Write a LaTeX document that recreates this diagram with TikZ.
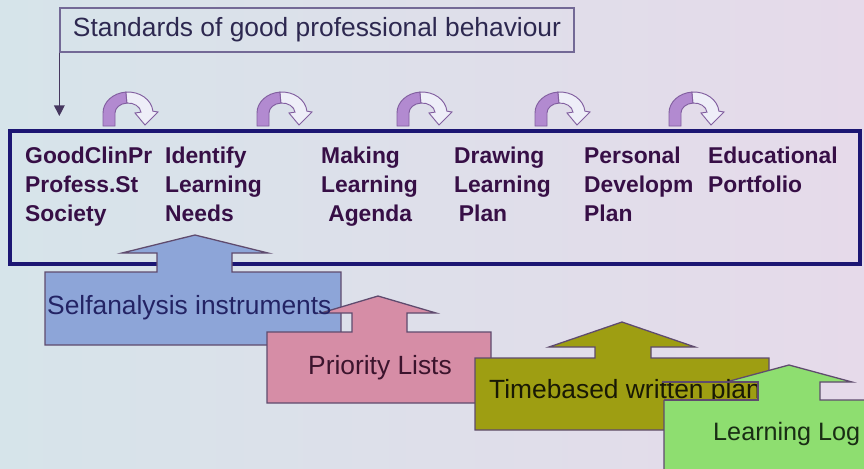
\documentclass[tikz,border=0pt]{standalone}
\usepackage{fontspec}
\setmainfont{Liberation Sans}
\usetikzlibrary{arrows.meta}

\definecolor{bgleft}{RGB}{214,228,234}
\definecolor{bgright}{RGB}{230,218,234}
\definecolor{boxnavy}{RGB}{28,22,115}
\definecolor{stdline}{RGB}{115,105,150}
\definecolor{stdtext}{RGB}{45,40,80}
\definecolor{stdarrow}{RGB}{70,55,95}
\definecolor{coltext}{RGB}{55,15,70}
\definecolor{turnfill}{RGB}{178,138,208}
\definecolor{turnline}{RGB}{130,95,160}
\definecolor{turnwhite}{RGB}{238,238,248}
\definecolor{selfblue}{RGB}{141,165,216}
\definecolor{prioritypink}{RGB}{214,141,166}
\definecolor{timeolive}{RGB}{158,158,18}
\definecolor{loggreen}{RGB}{142,222,112}
\definecolor{shapeline}{RGB}{95,75,110}

\begin{document}
\begin{tikzpicture}[x=0.03cm,y=-0.03cm,
    blockarrow/.style={draw=shapeline,line width=1.1pt},
    coltitle/.style={anchor=north west,inner sep=0pt,align=left,text=coltext,
        font=\fontsize{19.5}{24.7}\selectfont\bfseries},
    blocktext/.style={anchor=base west,inner sep=0pt,
        font=\fontsize{22.5}{27}\selectfont}]
    \useasboundingbox (0,0) rectangle (864,468);
    \clip (0,0) rectangle (864,468);
    \shade[left color=bgleft,right color=bgright] (0,0) rectangle (864,468);

    %standards
    \node[draw=stdline,line width=1.1pt,minimum width=15.42cm,minimum height=1.32cm,
        text=stdtext,font=\fontsize{22.5}{27}\selectfont] (std) at (317,30)
        {Standards of good professional behaviour};
    \coordinate (tiplevel) at (0,116);
    \coordinate (stdtip) at (std.south west |- tiplevel);
    \draw[stdarrow,line width=1pt,-{Triangle[width=9pt,length=9pt]}] (std.south west) -- (stdtip);

    %main box
    \draw[boxnavy,line width=2.6pt] (10,131) rectangle (860,264);
    \node[coltitle] (gcp) at (25,147) {GoodClinPr\\Profess.St\\Society};
    \node[coltitle] (needs) at (165,147) {Identify\\Learning\\Needs};
    \node[coltitle] (agenda) at (321,147) {Making\\Learning\\\hspace*{6pt}Agenda};
    \node[coltitle] (plan) at (454,147) {Drawing\\Learning\\\hspace*{4pt}Plan};
    \node[coltitle] (pdp) at (584,147) {Personal\\Developm\\Plan};
    \node[coltitle] (portfolio) at (708,147) {Educational\\Portfolio};

    %turning arrows
    \foreach \cx in {128,282,422,560,694}{
        \begin{scope}[shift={(\cx,113)}]
            \draw[turnline,fill=turnwhite,line width=0.8pt] (265:25 and 21)
                arc[start angle=265,end angle=355,x radius=25,y radius=21]
                -- (30,-1) -- (17,12) -- (7,0) -- (355:13 and 10)
                arc[start angle=355,end angle=265,x radius=13,y radius=10] -- cycle;
            \draw[turnline,fill=turnfill,line width=0.8pt] (-25,13) -- (-25,0)
                arc[start angle=180,end angle=265,x radius=25,y radius=21]
                -- (265:13 and 10)
                arc[start angle=265,end angle=180,x radius=13,y radius=10]
                -- (-13,13) -- cycle;
        \end{scope}
    }

    %block arrows
    \draw[blockarrow,fill=selfblue] (45,272) -- (157,272) -- (157,253) -- (122,253) -- (195,235)
        -- (268,253) -- (232,253) -- (232,272) -- (341,272) -- (341,345) -- (45,345) -- cycle;
    \draw[blockarrow,fill=prioritypink] (267,332) -- (352,332) -- (352,313) -- (321,313) -- (378,296)
        -- (436,313) -- (407,313) -- (407,332) -- (491,332) -- (491,403) -- (267,403) -- cycle;
    \draw[blockarrow,fill=timeolive] (475,358) -- (595,358) -- (595,347) -- (549,347) -- (622,322)
        -- (695,347) -- (651,347) -- (651,358) -- (769,358) -- (769,430) -- (475,430) -- cycle;
    \draw[blockarrow,fill=loggreen] (664,400) -- (758,400) -- (758,382) -- (726,382) -- (789,365)
        -- (852,382) -- (820,382) -- (820,400) -- (880,400) -- (880,480) -- (664,480) -- cycle;

    \node[blocktext,text={rgb,255:red,35;green,35;blue,100}] (selfanalysis) at (47,314) {Selfanalysis instruments};
    \node[blocktext,text={rgb,255:red,60;green,20;blue,45}] (priority) at (308,374) {Priority Lists};
    \fill[timeolive] (662,382) rectangle (758,400);
    \node[blocktext,text={rgb,255:red,25;green,25;blue,5}] (timebased) at (489,398) {Timebased written plan};
    \fill[loggreen] (665,400.6) rectangle (760,410);
    \draw[shapeline,line width=1.1pt] (662,382) -- (758,382) -- (758,400) -- (664,400);
    \node[blocktext,text={rgb,255:red,25;green,45;blue,20},font=\fontsize{21.5}{26}\selectfont] (log) at (713,440) {Learning Log};
\end{tikzpicture}
\end{document}
